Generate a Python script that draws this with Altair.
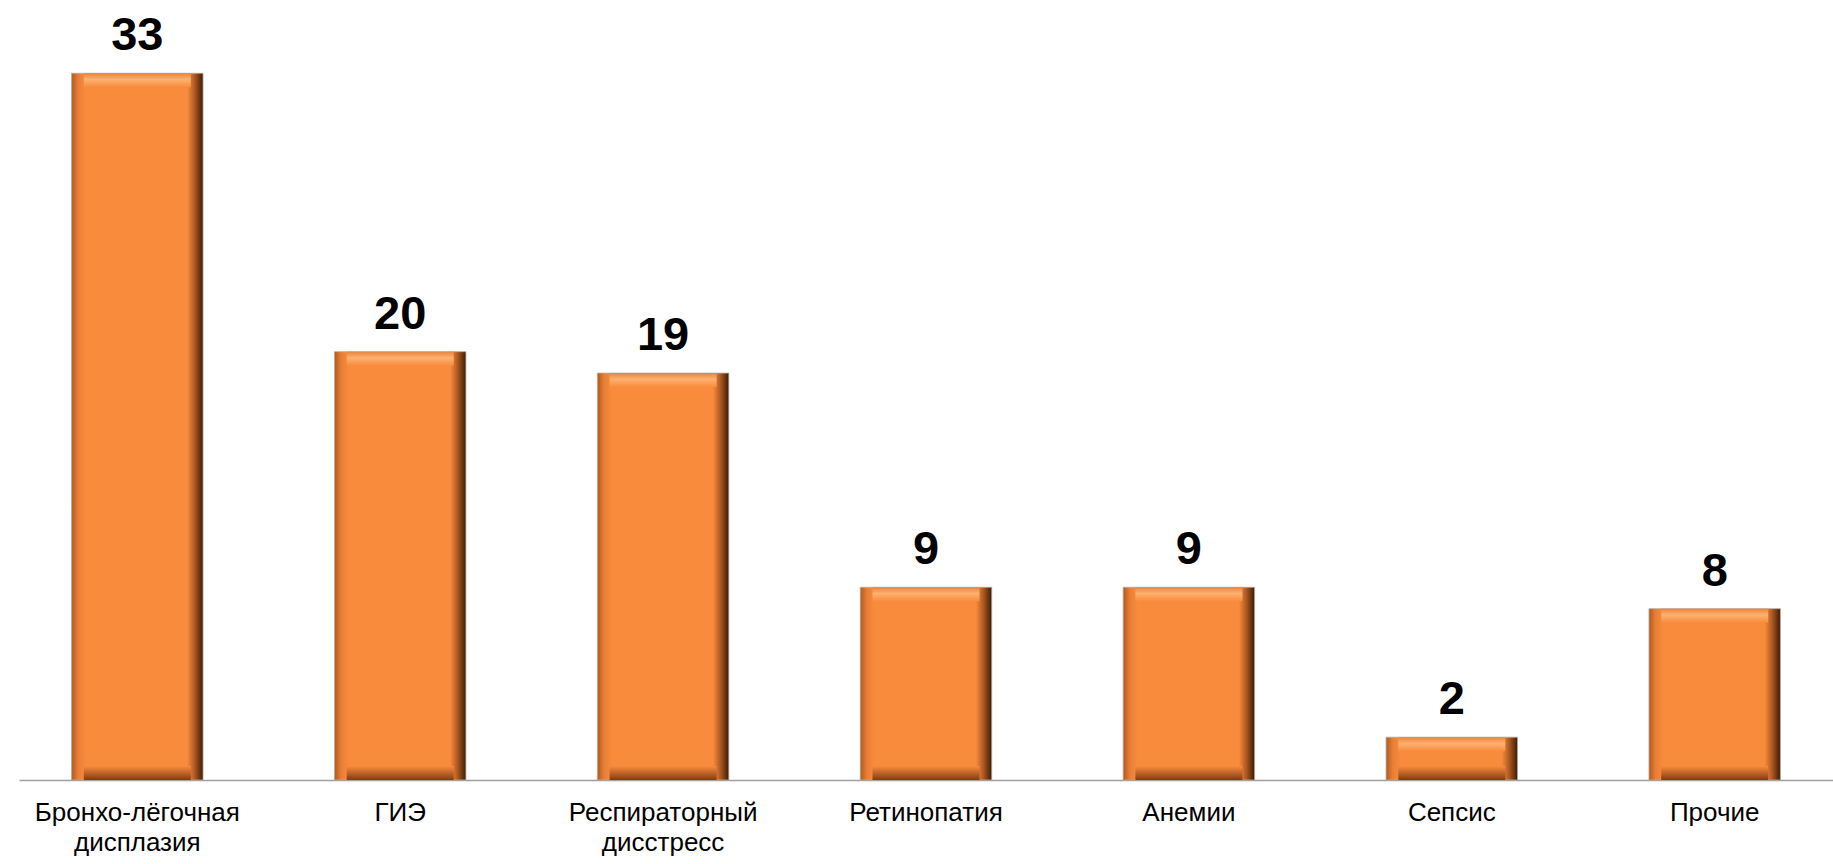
import altair as alt
import pandas as pd

categories = ["Бронхо-лёгочная\nдисплазия", "ГИЭ", "Респираторный\nдисстресс",
              "Ретинопатия", "Анемии", "Сепсис", "Прочие"]
values = [33, 20, 19, 9, 9, 2, 8]

df = pd.DataFrame({"cat": categories, "val": values, "zero": [0] * len(values)})

FONT = "Liberation Sans"

xenc = alt.X("cat:N", sort=categories,
             scale=alt.Scale(paddingInner=0.5, paddingOuter=0.2),
             axis=alt.Axis(title=None, labelAngle=0, labelFontSize=26, labelColor="#000000",
                           labelFont=FONT, labelLimit=400, labelPadding=19,
                           labelLineHeight=30, labelExpr="split(datum.label, '\\n')",
                           ticks=False, domainColor="#A0A0A0", domainWidth=1.5))
yscale = alt.Scale(domain=[0, 36], nice=False)

base = alt.Chart(df)

side_grad = alt.Gradient(gradient="linear", x1=0, x2=1, y1=0, y2=0, stops=[
    alt.GradientStop(offset=0, color="#B05A20"),
    alt.GradientStop(offset=0.05, color="#E87E36"),
    alt.GradientStop(offset=0.11, color="#F98B3D"),
    alt.GradientStop(offset=0.88, color="#F98B3D"),
    alt.GradientStop(offset=0.94, color="#A85520"),
    alt.GradientStop(offset=1, color="#3A1C06"),
])
top_grad = alt.Gradient(gradient="linear", x1=0, x2=0, y1=0, y2=1, stops=[
    alt.GradientStop(offset=0, color="#E8843E"),
    alt.GradientStop(offset=0.45, color="#FDB16F"),
    alt.GradientStop(offset=1, color="#F98B3D"),
])
bot_grad = alt.Gradient(gradient="linear", x1=0, x2=0, y1=0, y2=1, stops=[
    alt.GradientStop(offset=0, color="#F98B3D"),
    alt.GradientStop(offset=0.5, color="#C06428"),
    alt.GradientStop(offset=1, color="#7A3E12"),
])

body = base.mark_bar(color=side_grad, stroke="#B8A898", strokeWidth=0.8).encode(
    x=xenc,
    y=alt.Y("val:Q", scale=yscale, axis=None),
)
top = base.mark_bar(color=top_grad, size=107, y2Offset=14).encode(
    x=alt.X("cat:N", sort=categories),
    y=alt.Y("val:Q", scale=yscale),
    y2=alt.Y2("val:Q"),
)
bottom = base.mark_bar(color=bot_grad, size=107, yOffset=-14).encode(
    x=alt.X("cat:N", sort=categories),
    y=alt.Y("zero:Q", scale=yscale),
    y2=alt.Y2("zero:Q"),
)
labels = base.mark_text(fontSize=47, fontWeight="bold", font=FONT, color="#000000",
                        baseline="alphabetic", dy=-23).encode(
    x=alt.X("cat:N", sort=categories),
    y=alt.Y("val:Q", scale=yscale),
    text=alt.Text("val:Q"),
)

chart = alt.layer(body, top, bottom, labels).properties(
    width=1814, height=771,
    autosize=alt.AutoSizeParams(type="none"),
    padding={"left": 19, "top": 9, "right": 0, "bottom": 84},
    background="#FFFFFF",
).configure_view(stroke=None).configure_axis(grid=False)

chart.save("out.html", embed_options={"renderer": "svg", "actions": False})
